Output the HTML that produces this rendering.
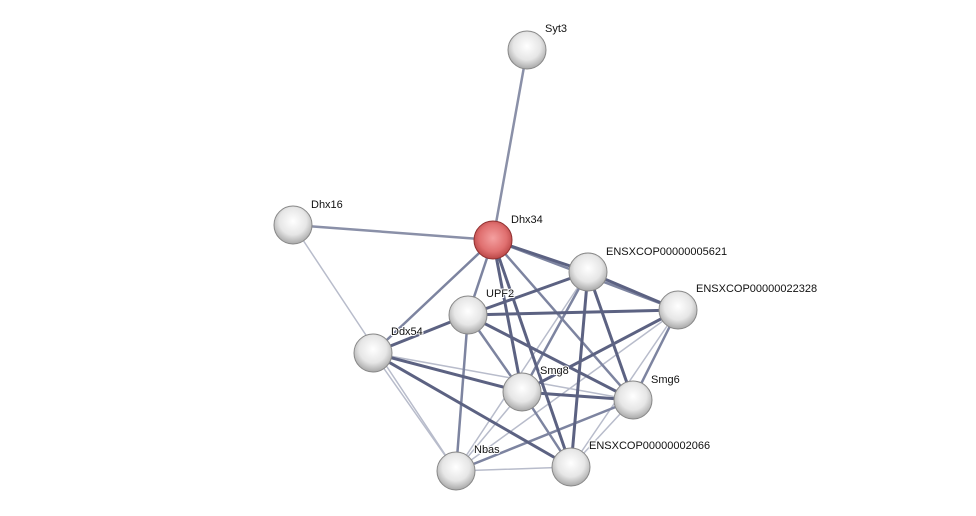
<!DOCTYPE html>
<html><head><meta charset="utf-8"><style>
html,body{margin:0;padding:0;background:#fff;}
svg{display:block}
text{font-family:"Liberation Sans",sans-serif;font-size:11px;fill:#111;paint-order:stroke;stroke:#fff;stroke-width:2px;}
</style></head><body>
<svg width="976" height="516" viewBox="0 0 976 516" xmlns="http://www.w3.org/2000/svg">
<defs>
<radialGradient id="g" cx="50%" cy="40%" r="60%">
<stop offset="0" stop-color="#ffffff"/><stop offset="0.6" stop-color="#e6e6e6"/><stop offset="1" stop-color="#a8a8a8"/>
</radialGradient>
<radialGradient id="r" cx="50%" cy="45%" r="60%">
<stop offset="0" stop-color="#f4a0a0"/><stop offset="0.6" stop-color="#e07070"/><stop offset="1" stop-color="#b03c3c"/>
</radialGradient>
</defs>
<g stroke-linecap="round">
<g stroke="#8a90a8" stroke-width="2.5">
<line x1="527" y1="50" x2="493" y2="240"/>
<line x1="293" y1="225" x2="493" y2="240"/>
</g>
<g stroke="#b8bccb" stroke-width="1.5">
<line x1="293" y1="225" x2="456" y2="471"/>
<line x1="373" y1="353" x2="456" y2="471"/>
<line x1="373" y1="353" x2="633" y2="400"/>
<line x1="678" y1="310" x2="456" y2="471"/>
<line x1="588" y1="272" x2="456" y2="471"/>
<line x1="678" y1="310" x2="571" y2="467"/>
<line x1="456" y1="471" x2="571" y2="467"/>
<line x1="633" y1="400" x2="571" y2="467"/>
<line x1="522" y1="392" x2="456" y2="471"/>
</g>
<g stroke="#7d84a0" stroke-width="2.5">
<line x1="493" y1="240" x2="373" y2="353"/>
<line x1="493" y1="240" x2="468" y2="315"/>
<line x1="493" y1="240" x2="633" y2="400"/>
<line x1="493" y1="240" x2="678" y2="310"/>
<line x1="468" y1="315" x2="456" y2="471"/>
<line x1="468" y1="315" x2="522" y2="392"/>
<line x1="588" y1="272" x2="522" y2="392"/>
<line x1="678" y1="310" x2="633" y2="400"/>
<line x1="522" y1="392" x2="571" y2="467"/>
<line x1="633" y1="400" x2="456" y2="471"/>
</g>
<g stroke="#5c6282" stroke-width="3">
<line x1="493" y1="240" x2="588" y2="272"/>
<line x1="493" y1="240" x2="522" y2="392"/>
<line x1="493" y1="240" x2="571" y2="467"/>
<line x1="588" y1="272" x2="678" y2="310"/>
<line x1="588" y1="272" x2="468" y2="315"/>
<line x1="588" y1="272" x2="633" y2="400"/>
<line x1="588" y1="272" x2="571" y2="467"/>
<line x1="468" y1="315" x2="678" y2="310"/>
<line x1="468" y1="315" x2="373" y2="353"/>
<line x1="468" y1="315" x2="633" y2="400"/>
<line x1="373" y1="353" x2="522" y2="392"/>
<line x1="373" y1="353" x2="571" y2="467"/>
<line x1="678" y1="310" x2="522" y2="392"/>
<line x1="522" y1="392" x2="633" y2="400"/>
</g>
</g>
<g stroke="#888" stroke-width="1">
<circle cx="527" cy="50" r="19" fill="url(#g)"/>
<circle cx="293" cy="225" r="19" fill="url(#g)"/>
<circle cx="493" cy="240" r="19" fill="url(#r)" stroke="#903030"/>
<circle cx="588" cy="272" r="19" fill="url(#g)"/>
<circle cx="678" cy="310" r="19" fill="url(#g)"/>
<circle cx="468" cy="315" r="19" fill="url(#g)"/>
<circle cx="373" cy="353" r="19" fill="url(#g)"/>
<circle cx="522" cy="392" r="19" fill="url(#g)"/>
<circle cx="633" cy="400" r="19" fill="url(#g)"/>
<circle cx="456" cy="471" r="19" fill="url(#g)"/>
<circle cx="571" cy="467" r="19" fill="url(#g)"/>
</g>
<text x="545" y="32">Syt3</text>
<text x="311" y="208">Dhx16</text>
<text x="511" y="223">Dhx34</text>
<text x="606" y="255">ENSXCOP00000005621</text>
<text x="696" y="292">ENSXCOP00000022328</text>
<text x="486" y="297">UPF2</text>
<text x="391" y="335">Ddx54</text>
<text x="540" y="374">Smg8</text>
<text x="651" y="383">Smg6</text>
<text x="474" y="453">Nbas</text>
<text x="589" y="449">ENSXCOP00000002066</text>
</svg>
</body></html>
